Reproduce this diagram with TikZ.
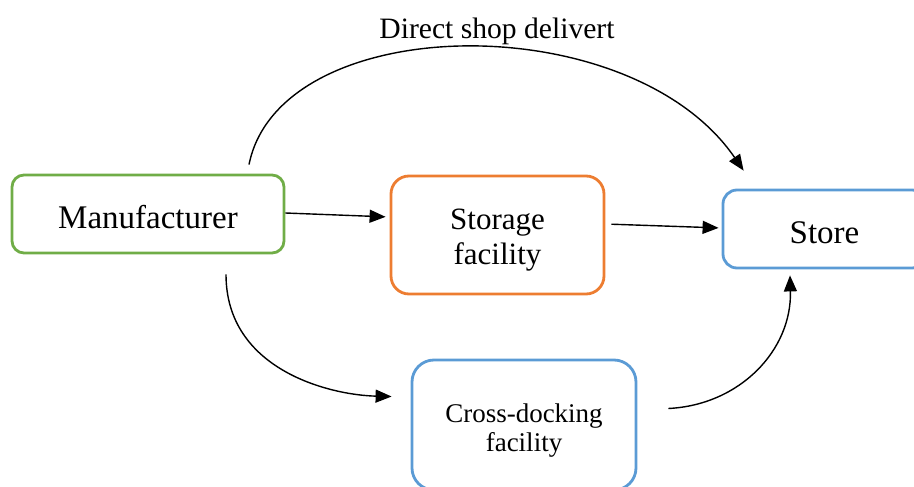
\documentclass[tikz,border=0pt]{standalone}
\usepackage{fontspec}
\setmainfont{Liberation Serif}
\usetikzlibrary{arrows.meta}
\definecolor{mgreen}{HTML}{70AD47}
\definecolor{morange}{HTML}{ED7D31}
\definecolor{mblue}{HTML}{5B9BD5}
\begin{document}
\begin{tikzpicture}[x=1pt,y=-1pt,
  box/.style={draw, line width=2.8pt, rounded corners=#1, inner sep=0pt},
  txt/.style={inner sep=0pt, align=center},
  conn/.style={line width=1.4pt, -{Triangle[length=16pt,width=13pt]}}]
\useasboundingbox (0,0) rectangle (914,487);
\node[box=12pt, draw=mgreen, minimum width=272pt, minimum height=78pt] (M) at (148,214) {};
\node[box=18pt, draw=morange, minimum width=213pt, minimum height=118pt] (S) at (497.5,235) {};
\node[box=14pt, draw=mblue, minimum width=203pt, minimum height=78pt] (T) at (824.5,229) {};
\node[box=22pt, draw=mblue, minimum width=224pt, minimum height=130pt] (C) at (524,425) {};
\node[txt, font=\fontsize{33}{38}\selectfont] (Mt) at ([yshift=-3pt]M.center) {Manufacturer};
\node[txt, font=\fontsize{31}{35}\selectfont] (St) at ([yshift=-5pt]S.center) {Storage\\facility};
\node[txt, font=\fontsize{33}{38}\selectfont] (Tt) at ([yshift=-4pt]T.center) {Store};
\node[txt, font=\fontsize{27}{29}\selectfont] (Ct) at ([yshift=-6pt]C.center) {Cross-docking\\facility};
\node[txt, font=\fontsize{29.6}{34}\selectfont] (L) at (497,31) {Direct shop delivert};
\draw[conn, shorten >=4pt] ([yshift=1pt]M.east) -- ([yshift=18pt]S.west);
\draw[conn, shorten <=6pt, shorten >=3pt] ([yshift=11pt]S.east) -- ([yshift=1pt]T.west);
\draw[conn] ([xshift=101pt,yshift=9pt]M.north) .. controls (280,10) and (630,5) .. ([xshift=22pt,yshift=18pt]T.north west);
\draw[conn, shorten >=19pt] ([xshift=78pt,yshift=-20pt]M.south) .. controls (226,370) and (330,395) .. ([yshift=28pt]C.west);
\draw[conn, shorten <=31pt] ([yshift=15pt]C.east) .. controls (740,405) and (792,350) .. ([xshift=-34.5pt,yshift=-6pt]T.south);
\end{tikzpicture}
\end{document}
